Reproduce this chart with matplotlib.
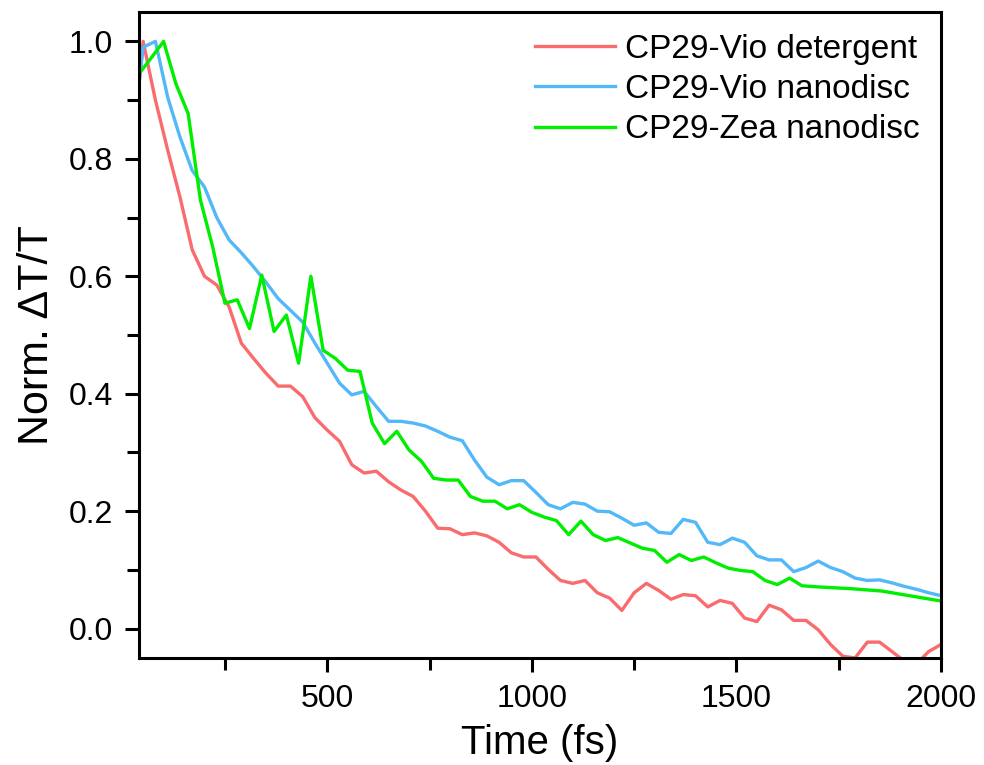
import numpy as np
import matplotlib
matplotlib.use('Agg')
import matplotlib.pyplot as plt
from matplotlib.ticker import MultipleLocator, FormatStrFormatter

plt.rcParams['font.family'] = ['Liberation Sans', 'DejaVu Sans']

# red / blue share one time grid (fs)
t_vio = np.arange(20, 2001, 30)

vio_det = [0.78, 1.00, 0.90, 0.815, 0.735, 0.645, 0.60, 0.585, 0.548, 0.486,
           0.46, 0.435, 0.413, 0.413, 0.395, 0.359, 0.338, 0.319, 0.279, 0.265,
           0.268, 0.25, 0.236, 0.225, 0.20, 0.171, 0.17, 0.16, 0.163, 0.158,
           0.147, 0.129, 0.122, 0.122, 0.101, 0.082, 0.077, 0.082, 0.061, 0.052,
           0.031, 0.061, 0.077, 0.065, 0.050, 0.058, 0.056, 0.037, 0.048, 0.043,
           0.018, 0.012, 0.040, 0.032, 0.014, 0.014, -0.002, -0.027, -0.047, -0.05,
           -0.023, -0.023, -0.039, -0.055, -0.06, -0.039, -0.027]

vio_nano = [0.81, 0.99, 1.00, 0.905, 0.837, 0.78, 0.752, 0.70, 0.662, 0.64,
            0.616, 0.59, 0.562, 0.542, 0.522, 0.486, 0.452, 0.418, 0.398, 0.404,
            0.378, 0.353, 0.353, 0.35, 0.345, 0.336, 0.326, 0.32, 0.287, 0.258,
            0.245, 0.252, 0.252, 0.232, 0.211, 0.204, 0.215, 0.212, 0.20, 0.199,
            0.188, 0.176, 0.18, 0.164, 0.162, 0.186, 0.181, 0.147, 0.143, 0.154,
            0.147, 0.124, 0.117, 0.117, 0.097, 0.104, 0.115, 0.104, 0.097, 0.086,
            0.082, 0.083, 0.078, 0.072, 0.067, 0.061, 0.056]

# green has its own grid, sparser at the tail
t_zea = list(range(40, 1661, 30)) + [1700, 1780, 1855, 2000]
zea_nano = [0.945, 0.972, 1.00, 0.928, 0.877, 0.73, 0.65, 0.554, 0.56, 0.511,
            0.602, 0.506, 0.534, 0.452, 0.60, 0.474, 0.46, 0.44, 0.438, 0.35,
            0.315, 0.336, 0.304, 0.285, 0.256, 0.253, 0.253, 0.225, 0.217, 0.217,
            0.204, 0.211, 0.198, 0.19, 0.184, 0.16, 0.183, 0.16, 0.15, 0.155,
            0.146, 0.137, 0.133, 0.113, 0.126, 0.116, 0.122, 0.112, 0.103, 0.099,
            0.097, 0.082, 0.075, 0.086, 0.073, 0.071, 0.068, 0.064, 0.047]

fig = plt.figure(figsize=(9.84, 7.65), dpi=100)
ax = fig.add_axes([0.1413, 0.1399, 0.815, 0.8444])

ax.plot(t_vio, vio_det, color='#F96B6E', lw=2.4, label='CP29-Vio detergent')
ax.plot(t_vio, vio_nano, color='#52B8F8', lw=2.4, label='CP29-Vio nanodisc')
ax.plot(t_zea, zea_nano, color='#00EE00', lw=2.4, label='CP29-Zea nanodisc')

ax.set_xlim(40, 2000)
ax.set_ylim(-0.05, 1.05)
ax.xaxis.set_major_locator(MultipleLocator(500))
ax.xaxis.set_minor_locator(MultipleLocator(250))
ax.yaxis.set_major_locator(MultipleLocator(0.2))
ax.yaxis.set_minor_locator(MultipleLocator(0.1))
ax.yaxis.set_major_formatter(FormatStrFormatter('%.1f'))

ax.tick_params(which='major', direction='out', length=10, width=2.2, labelsize=23, pad=9)
ax.tick_params(which='minor', direction='out', length=8.5, width=2.2)
for s in ax.spines.values():
    s.set_linewidth(2.2)

ax.set_xlabel('Time (fs)', fontsize=29, labelpad=7)
ax.set_ylabel('Norm. ΔT/T', fontsize=31, labelpad=8)

ax.legend(loc='upper right', frameon=False, fontsize=24, handlelength=2.4,
          handletextpad=0.3, labelspacing=0.28, borderaxespad=0.25)

fig.savefig('out.png', dpi=100)
